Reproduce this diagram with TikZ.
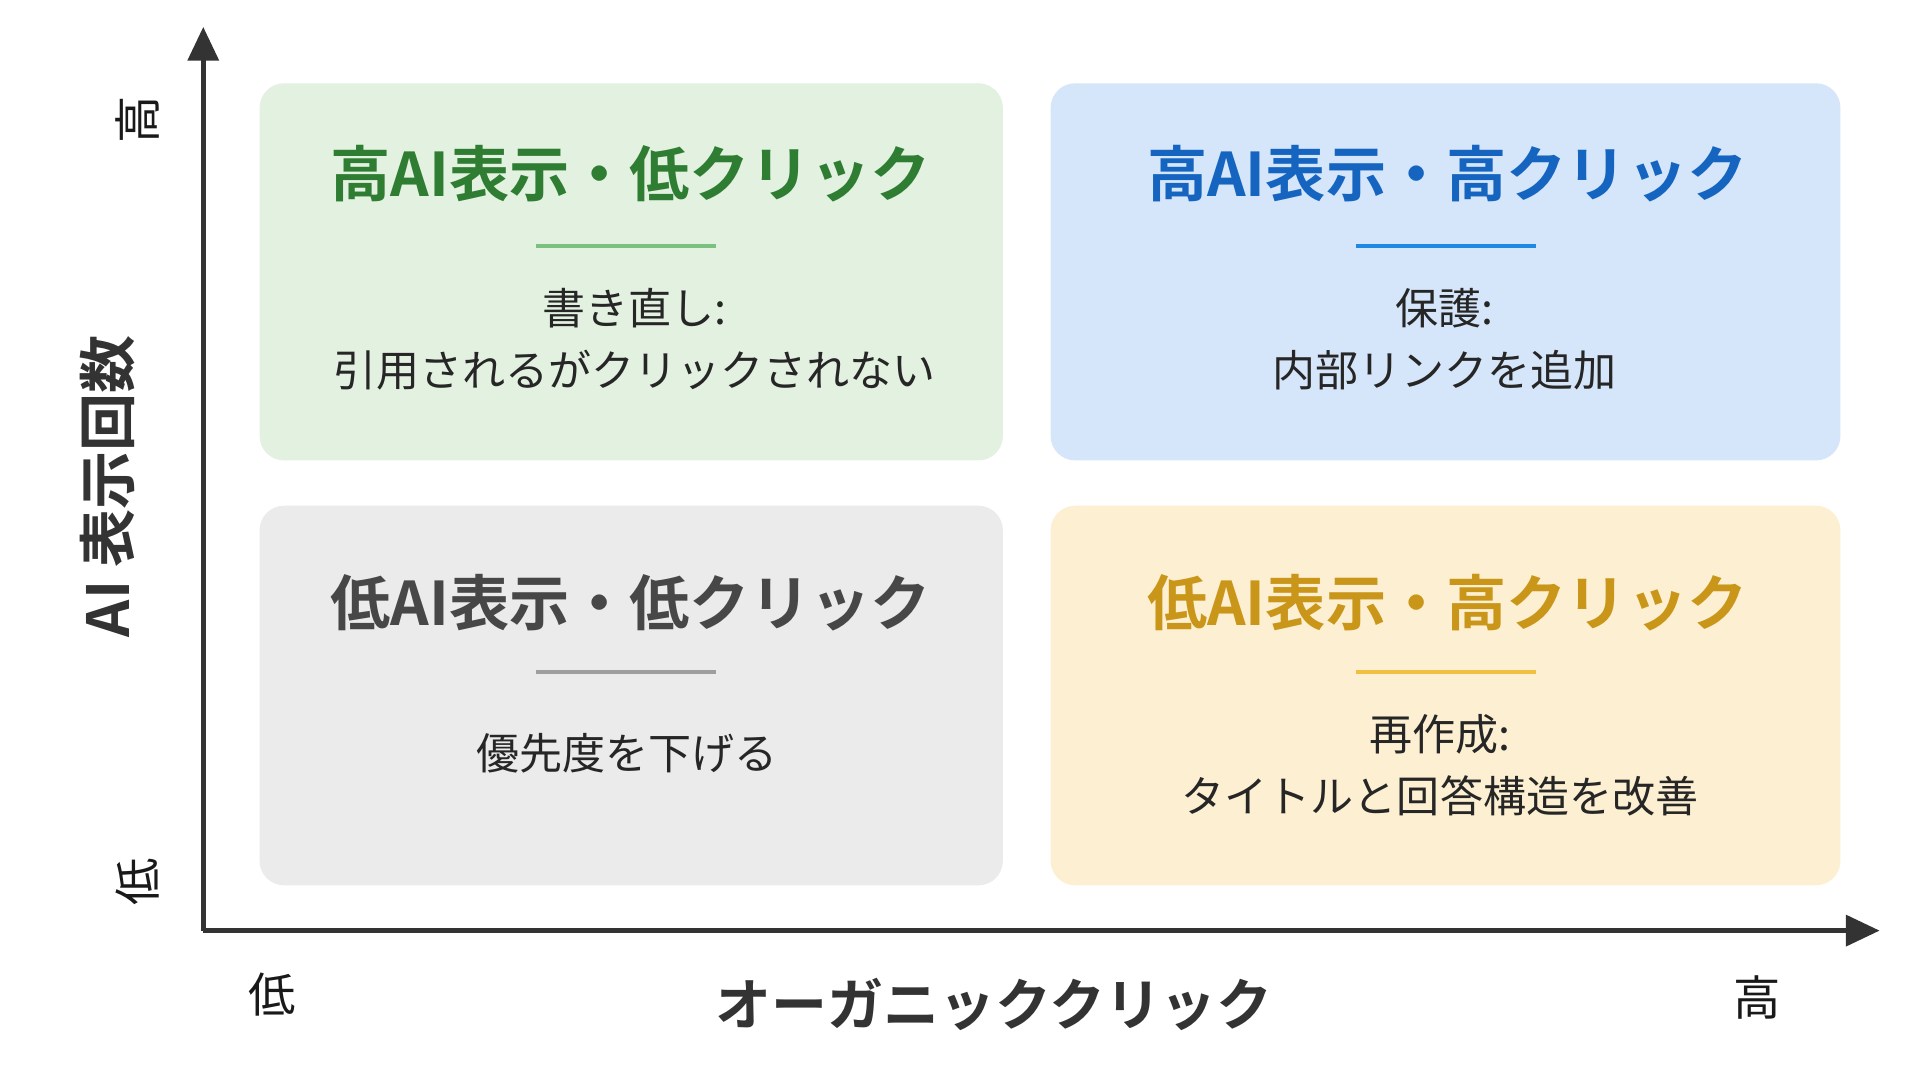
\documentclass[tikz,border=0pt]{standalone}
\usepackage{fontspec}
\setmainfont{Noto Sans CJK JP}
\newfontfamily\jpb{Noto Sans CJK JP Bold}
\usetikzlibrary{arrows.meta}
\definecolor{gfill}{HTML}{E3F1E1}\definecolor{gtitle}{HTML}{2E7D32}\definecolor{gline}{HTML}{7CC07F}
\definecolor{bfill}{HTML}{D6E6FA}\definecolor{btitle}{HTML}{1565C0}\definecolor{bline}{HTML}{1E88E5}
\definecolor{kfill}{HTML}{EBEBEB}\definecolor{ktitle}{HTML}{474747}\definecolor{kline}{HTML}{9E9E9E}
\definecolor{yfill}{HTML}{FDF0D2}\definecolor{ytitle}{HTML}{C9961A}\definecolor{yline}{HTML}{F0C040}
\definecolor{axis}{HTML}{333333}
\begin{document}
\begin{tikzpicture}[x=0.02cm,y=-0.02cm,
  box/.style={rounded corners=0.4cm,draw=none},
  ttl/.style={font=\jpb\fontsize{28}{32}\selectfont},
  body/.style={font=\fontsize{20}{28.5}\selectfont,text=black!85,align=center},
  ax/.style={font=\fontsize{22}{24}\selectfont,text=black!90}]
\useasboundingbox[fill=white] (0,0) rectangle (1568,889);
\fill[box,gfill] (212,68) rectangle (819,376);
\fill[box,bfill] (858,68) rectangle (1503,376);
\fill[box,kfill] (212,413) rectangle (819,723);
\fill[box,yfill] (858,413) rectangle (1503,723);
\coordinate (o) at (166,760);
\coordinate (ytop) at (166,22);
\coordinate (xend) at (1535,760);
\draw[axis,line width=2.2pt,-{Triangle[length=0.55cm,width=0.5cm]}] (o) -- (ytop);
\draw[axis,line width=2.2pt,-{Triangle[length=0.55cm,width=0.5cm]}] (o) -- (xend);
% TL
\node[ttl,text=gtitle] (t1) at (515,142) {高AI表示・低クリック};
\draw[gline,line width=2pt] (438,201) -- (585,201);
\node[body] (b1) at (518,277) {書き直し:\\引用されるがクリックされない};
% TR
\node[ttl,text=btitle] (t2) at (1182,142) {高AI表示・高クリック};
\draw[bline,line width=2pt] (1107,201) -- (1254,201);
\node[body] (b2) at (1180,277) {保護:\\内部リンクを追加};
% BL
\node[ttl,text=ktitle] (t3) at (515,492) {低AI表示・低クリック};
\draw[kline,line width=2pt] (438,549) -- (585,549);
\node[body] (b3) at (512,615) {優先度を下げる};
% BR
\node[ttl,text=ytitle] (t4) at (1182,492) {低AI表示・高クリック};
\draw[yline,line width=2pt] (1107,549) -- (1254,549);
\node[body] (b4) at (1176,625) {再作成:\\タイトルと回答構造を改善};
% axis labels
\node[ax,rotate=90] (yh) at (112,98) {高};
\node[ax,rotate=90] (yl) at (112,720) {低};
\node[font=\jpb\fontsize{27}{30}\selectfont,text=axis,rotate=90] (yt) at (88,397) {AI 表示回数};
\node[ax] (xl) at (222,812) {低};
\node[ax] (xh) at (1435,815) {高};
\node[font=\jpb\fontsize{26}{28}\selectfont,text=axis] (xt) at (812,820) {オーガニッククリック};
\end{tikzpicture}
\end{document}
